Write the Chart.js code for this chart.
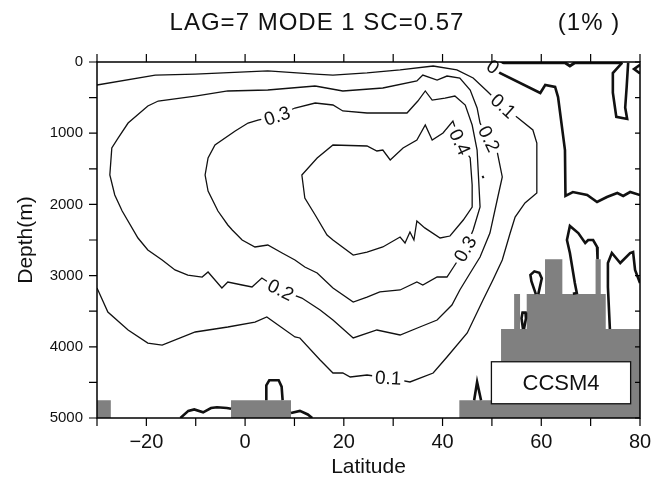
<!DOCTYPE html>
<html>
<head>
<meta charset="utf-8">
<script src="https://cdn.jsdelivr.net/npm/chart.js@4.4.1/dist/chart.umd.min.js"></script>
<style>
  html, body { margin: 0; padding: 0; background: #fff; }
  canvas { display: block; }
</style>
</head>
<body>
<canvas id="grafico" width="654" height="488"></canvas>
<script>
// Ticks of the axes
const latTicks = [-20, 0, 20, 40, 60, 80];
const depthTicks = [0, 1000, 2000, 3000, 4000, 5000];

// Contours [latitude, depth]
const c01 = [[-30, 323], [-18.2, 183], [-10.1, 169], [4.6, 126], [14.2, 169], [17.8, 183], [24.7, 154], [31.4, 112],
  [38.1, 56], [42.9, 112], [46.2, 225], [49.0, 407], [52.1, 618], [55.3, 787], [58.3, 955], [59.1, 1138],
  [59.1, 1840], [56.7, 1980], [54.7, 2177], [53.7, 2402], [52.1, 2781], [50.2, 3062], [48.2, 3343], [45.0, 3806],
  [40.9, 4143], [38.1, 4368], [33.4, 4494], [29.0, 4438], [24.7, 4396], [21.3, 4424], [19.8, 4368], [17.8, 4368],
  [15.2, 4185], [11.1, 3876], [10.1, 3862], [4.4, 3581], [2.0, 3652], [-3.5, 3722], [-10.1, 3792], [-16.8, 3975],
  [-19.7, 3947], [-23.7, 3764], [-27.8, 3511], [-30, 3174]];

const c02 = [[14.2, 337], [4.6, 393], [-3.5, 407], [-10.1, 478], [-17.6, 548], [-19.7, 618], [-23.7, 857],
  [-25.7, 1067], [-27.0, 1208], [-27.4, 1587], [-26.4, 1868], [-24.9, 2093], [-21.7, 2472], [-19.7, 2640],
  [-16.8, 2781], [-14.2, 2921], [-11.6, 2992], [-8.7, 3020], [-7.5, 2949], [-4.7, 3174], [-3.5, 3090],
  [-0.6, 3132], [1.4, 3160], [3.4, 3034], [7.1, 3202], [11.5, 3315], [15.2, 3483], [17.8, 3624], [21.9, 3876],
  [26.7, 3764], [31.4, 3834], [35.4, 3722], [38.9, 3624], [41.9, 3413], [43.5, 3202], [45.6, 2963], [47.6, 2739],
  [49.6, 2402], [51.2, 1896], [52.1, 1615], [51.0, 1236], [49.2, 1081], [47.6, 857], [47.0, 646], [45.6, 393],
  [43.5, 225], [40.9, 197], [38.9, 253], [36.0, 183], [34.8, 267], [27.9, 365], [19.8, 407], [14.2, 337]];

const c03 = [[6.5, 758], [10.1, 646], [14.2, 576], [17.8, 604], [19.8, 688], [24.7, 716], [32.8, 716], [35.0, 548],
  [36.5, 407], [37.9, 534], [40.5, 506], [42.5, 478], [44.6, 604], [46.0, 885], [47.0, 1236], [47.6, 2037],
  [46.2, 2360], [44.6, 2626], [42.1, 2893], [40.9, 3020], [38.9, 3020], [36.0, 3132], [34.8, 3090], [31.4, 3202],
  [27.3, 3230], [24.7, 3301], [21.9, 3371], [17.8, 3174], [14.6, 2963], [12.1, 2879], [10.1, 2781], [7.5, 2683],
  [4.6, 2570], [2.0, 2598], [-0.6, 2500], [-2.6, 2360], [-3.5, 2289], [-5.5, 2093], [-7.5, 1812], [-8.1, 1587],
  [-7.5, 1348], [-6.1, 1166], [-2.0, 969], [0.6, 857], [2.6, 815], [6.5, 758]];

const c04 = [[43.5, 1124], [42.1, 829], [40.1, 997], [37.9, 1096], [36.5, 885], [34.8, 1096], [32.0, 1208],
  [29.4, 1376], [27.9, 1236], [26.7, 1250], [24.7, 1180], [17.8, 1166], [14.6, 1348], [11.5, 1587], [12.1, 1910],
  [14.2, 2149], [16.6, 2430], [17.8, 2500], [21.9, 2711], [24.7, 2669], [27.9, 2598], [31.4, 2458], [32.4, 2542],
  [33.4, 2388], [34.2, 2500], [34.8, 2233], [36.4, 2330], [39.5, 2472], [41.5, 2444], [44.2, 2219], [46.0, 2037],
  [46.0, 1728], [45.6, 1348], [43.5, 1124]];

const cDot = [[48.1, 1600], [48.3, 1630]];

// Zero contours (thick)
const z0Surface = [[49.0, 10], [64.8, 10], [65.8, 56], [66.8, 10], [76.4, 10]];
const z0North = [[49.5, 30], [51.6, 154], [59.8, 435], [60.8, 323], [62.8, 351], [63.4, 492], [64.8, 1236],
  [64.9, 1880], [66.4, 1826], [69.3, 1868], [71.3, 1966], [73.3, 1896], [75.4, 1840], [76.6, 1882], [78.0, 1826],
  [80, 1868]];
const z0Hook = [[76.4, 10], [74.5, 155], [74.5, 430], [75.2, 770], [77.4, 800], [77.0, 640], [77.3, 350], [77.6, 10]];
const z0Edge = [[80, 40], [78.8, 100], [80, 160]];
const z0LoopA = [[66.4, 3255], [67.2, 3244], [66.8, 3104], [65.8, 2683], [65.2, 2500], [65.8, 2303], [67.5, 2402],
  [68.9, 2542], [69.5, 2500], [70.5, 2500], [71.3, 2598], [71.4, 2770]];
const z0LoopB = [[73.9, 3750], [73.5, 3160], [73.5, 2823], [74.3, 2683], [76.0, 2823], [78.0, 2683], [78.6, 2669],
  [79.0, 2921], [80, 3104]];
const z0TearA = [[58.9, 3260], [58.0, 3080], [57.8, 2990], [58.6, 2940], [59.6, 2960], [60.1, 3040], [59.4, 3260]];
const z0TearB = [[56.3, 3750], [56.0, 3600], [56.2, 3520], [56.8, 3520], [56.9, 3600], [56.5, 3750]];
const z0Spike = [[46.4, 4750], [47.0, 4494], [47.8, 4750]];
const z0SouthA = [[-13.1, 5000], [-11.5, 4900], [-10.3, 4880], [-8.5, 4920], [-6.9, 4860], [-5.7, 4850],
  [-3.7, 4860], [-2.85, 4870]];
const z0Hump = [[4.3, 4750], [4.3, 4540], [4.9, 4470], [6.8, 4470], [7.4, 4560], [7.6, 4750]];
const z0SouthB = [[9.3, 4930], [11.1, 4900], [12.7, 4950], [13.6, 5000]];

// Bottom topography (steps)
const maskEdges = [-30, -27.2, -2.85, 9.3, 43.4, 51.85, 54.5, 55.7, 57.05, 60.76, 64.27, 71.0, 72.05, 73.06, 80];
const maskTops = [4750, 5000, 4750, 5000, 4750, 3750, 3260, 3750, 3260, 2770, 3260, 2770, 3260, 3750];

// Contour labels
const contourLabels = [
  { text: '0', lat: 50.2, depth: 70 },
  { text: '0.1', lat: 52.3, depth: 618 },
  { text: '0.2', lat: 49.4, depth: 1081 },
  { text: '0.4', lat: 43.5, depth: 1124 },
  { text: '0.3', lat: 6.5, depth: 758 },
  { text: '0.3', lat: 44.6, depth: 2626 },
  { text: '0.2', lat: 7.2, depth: 3202 },
  { text: '0.1', lat: 29.0, depth: 4438 }
];
const labelAngles = [35, 42, 64, 65, -18, -60, 27, 3];

const toPts = arr => arr.map(([x, y]) => ({ x, y }));

function linha(data, width) {
  return { data: toPts(data), borderColor: '#111', borderWidth: width, pointRadius: 0, fill: false, tension: 0, order: 0 };
}

const maskPts = [];
maskTops.forEach((top, i) => {
  maskPts.push([maskEdges[i], top], [maskEdges[i + 1], top]);
});

const fonte = 'Liberation Sans';

// Labels, box, frame and title
const moldura = {
  id: 'moldura',
  afterDraw(chart) {
    const { ctx, chartArea: a, scales: { x, y } } = chart;
    ctx.save();

    ctx.font = '19px "' + fonte + '"';
    ctx.textAlign = 'center';
    ctx.textBaseline = 'middle';
    contourLabels.forEach((l, i) => {
      const w = ctx.measureText(l.text).width;
      ctx.save();
      ctx.translate(x.getPixelForValue(l.lat), y.getPixelForValue(l.depth));
      ctx.rotate(labelAngles[i] * Math.PI / 180);
      ctx.fillStyle = '#fff';
      ctx.fillRect(-w / 2 - 3, -8, w + 6, 16);
      ctx.fillStyle = '#111';
      ctx.fillText(l.text, 0, 1);
      ctx.restore();
    });

    // CCSM4 box
    const bx0 = x.getPixelForValue(49.9), bx1 = x.getPixelForValue(78.1);
    const by0 = y.getPixelForValue(4210), by1 = y.getPixelForValue(4800);
    ctx.fillStyle = '#fff';
    ctx.fillRect(bx0, by0, bx1 - bx0, by1 - by0);
    ctx.strokeStyle = '#111';
    ctx.lineWidth = 1.3;
    ctx.strokeRect(bx0, by0, bx1 - bx0, by1 - by0);
    ctx.fillStyle = '#111';
    ctx.font = '22px "' + fonte + '"';
    ctx.fillText('CCSM4', (bx0 + bx1) / 2, (by0 + by1) / 2 + 1);

    // frame and ticks
    ctx.strokeStyle = '#000';
    ctx.lineWidth = 1.5;
    ctx.strokeRect(a.left, a.top, a.right - a.left, a.bottom - a.top);
    ctx.lineWidth = 1.2;
    ctx.beginPath();
    for (let v = -30; v <= 80; v += 10) {
      const px = x.getPixelForValue(v);
      ctx.moveTo(px, a.bottom); ctx.lineTo(px, a.bottom + 8);
      ctx.moveTo(px, a.top); ctx.lineTo(px, a.top - 8);
    }
    for (let d = 0; d <= 5000; d += 500) {
      const py = y.getPixelForValue(d);
      ctx.moveTo(a.left, py); ctx.lineTo(a.left - 8, py);
      ctx.moveTo(a.right, py); ctx.lineTo(a.right - 5, py);
    }
    ctx.stroke();

    // title
    ctx.fillStyle = '#111';
    ctx.font = '24px "' + fonte + '"';
    ctx.letterSpacing = '1px';
    ctx.fillText('LAG=7 MODE 1 SC=0.57', 317, 23);
    ctx.fillText('(1% )', 589, 23);
    ctx.restore();
  }
};

new Chart(document.getElementById('grafico'), {
  type: 'line',
  data: {
    datasets: [
      { data: toPts(maskPts), borderColor: '#808080', borderWidth: 0, backgroundColor: '#808080',
        fill: { value: 5000 }, pointRadius: 0, tension: 0, order: 5 },
      linha(c01, 1.3), linha(c02, 1.3), linha(c03, 1.3), linha(c04, 1.3), linha(cDot, 2),
      linha(z0Surface, 3), linha(z0North, 2.6), linha(z0Hook, 2.6), linha(z0Edge, 2.6),
      linha(z0LoopA, 2.6), linha(z0LoopB, 2.6), linha(z0TearA, 2.6), linha(z0TearB, 2.6),
      linha(z0Spike, 2.6), linha(z0SouthA, 2.6), linha(z0Hump, 2.6), linha(z0SouthB, 2.6)
    ]
  },
  options: {
    responsive: false,
    animation: false,
    devicePixelRatio: 1,
    layout: { padding: { top: 62, right: 14, left: 0, bottom: 0 } },
    plugins: { legend: { display: false }, tooltip: { enabled: false }, title: { display: false } },
    scales: {
      x: {
        type: 'linear', min: -30, max: 80,
        afterBuildTicks: s => { s.ticks = latTicks.map(v => ({ value: v })); },
        afterFit: s => { s.height = 70; s.paddingLeft = 0; s.paddingRight = 0; },
        grid: { display: false, drawTicks: false },
        border: { display: false },
        ticks: {
          autoSkip: false, maxRotation: 0, padding: 12, color: '#111',
          font: { family: fonte, size: 20 },
          callback: v => v < 0 ? '\u2212' + Math.abs(v) : String(v)
        },
        title: { display: true, text: 'Latitude', color: '#111', font: { family: fonte, size: 21 },
          padding: { top: 0, bottom: 8 } }
      },
      y: {
        type: 'linear', reverse: true, min: 0, max: 5000,
        afterBuildTicks: s => { s.ticks = depthTicks.map(v => ({ value: v })); },
        afterFit: s => { s.width = 97; s.paddingTop = 0; s.paddingBottom = 0; },
        grid: { display: false, drawTicks: false },
        border: { display: false },
        ticks: { autoSkip: false, padding: 14, color: '#111', font: { family: fonte, size: 15 },
          callback: v => String(v) },
        title: { display: true, text: 'Depth(m)', color: '#111', font: { family: fonte, size: 21 },
          padding: { top: 14, bottom: 0 } }
      }
    }
  },
  plugins: [moldura]
});
</script>
</body>
</html>
